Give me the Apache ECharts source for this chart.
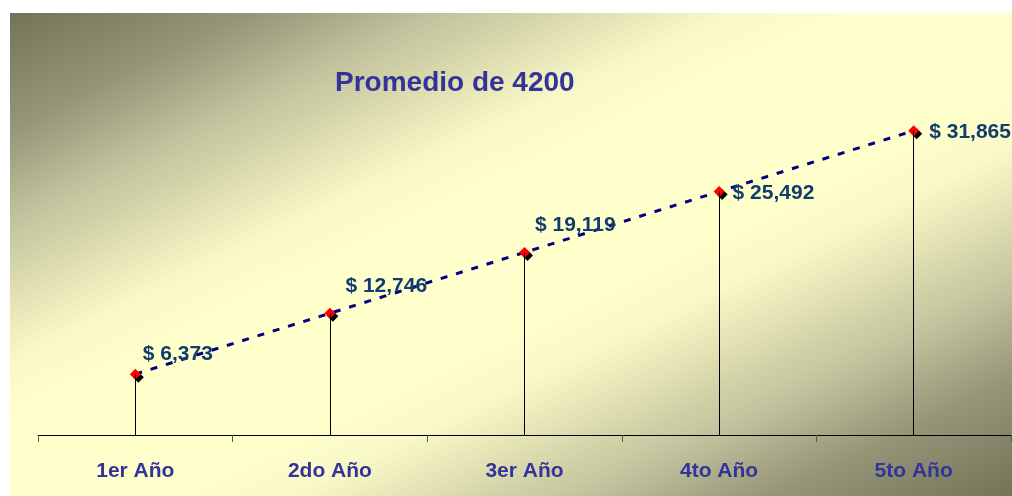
<!DOCTYPE html>
<html>
<head>
<meta charset="utf-8">
<script src="https://cdn.jsdelivr.net/npm/echarts@6/dist/echarts.min.js"></script>
<style>
  html, body { margin: 0; padding: 0; background: #fff; }
  #main { width: 1012px; height: 496px; }
</style>
</head>
<body>
<div id="main"></div>
<script>
const categories = ['1er Año', '2do Año', '3er Año', '4to Año', '5to Año'];
const values = [6373, 12746, 19119, 25492, 31865];
const titleText = 'Promedio de 4200';

// label offsets per point (x, y)
const labelOffsets = [[-3, -20], [5, -27], [0, -27], [3, 2], [5, 2]];

const myChart = echarts.init(document.getElementById('main'));

const fmt = (v) => '$ ' + v.toLocaleString('en-US');

myChart.setOption({
  animation: false,
  title: {
    text: titleText,
    left: 335,
    top: 69,
    padding: 0,
    textStyle: { fontFamily: 'Liberation Sans', fontSize: 28, fontWeight: 'bold', color: '#333399' }
  },
  graphic: [{
    type: 'rect',
    left: 10,
    top: 13,
    z: -10,
    silent: true,
    shape: { width: 1002, height: 483 },
    style: {
      // diagonal gradient, isolines along the anti-diagonal of the box
      fill: new echarts.graphic.LinearGradient(0, 0, 0.377, 1.623, [
        { offset: 0, color: '#737358' },
        { offset: 0.12, color: '#959578' },
        { offset: 0.21, color: '#c0c09c' },
        { offset: 0.3, color: '#e2e2b4' },
        { offset: 0.36, color: '#f8f8c8' },
        { offset: 0.42, color: '#ffffcc' },
        { offset: 0.58, color: '#ffffcc' },
        { offset: 0.64, color: '#f8f8c8' },
        { offset: 0.7, color: '#e2e2b4' },
        { offset: 0.79, color: '#c0c09c' },
        { offset: 0.88, color: '#959578' },
        { offset: 1, color: '#737358' }
      ])
    }
  }],
  grid: { left: 38, right: 1, top: 53, bottom: 61 },
  xAxis: {
    type: 'category',
    data: categories,
    boundaryGap: true,
    axisLine: { lineStyle: { color: '#000', width: 1 } },
    axisTick: { show: true, length: 7, lineStyle: { color: '#555' } },
    axisLabel: {
      margin: 26,
      fontFamily: 'Liberation Sans', fontSize: 21, fontWeight: 'bold', color: '#333399'
    }
  },
  yAxis: { type: 'value', min: 0, max: 40000, show: false, splitLine: { show: false } },
  series: [
    {
      type: 'line',
      data: values.map((v, i) => ({
        value: v,
        label: { offset: labelOffsets[i] }
      })),
      z: 3,
      symbol: 'diamond',
      symbolSize: 11,
      itemStyle: {
        color: '#ff0000',
        shadowColor: '#000',
        shadowBlur: 0,
        shadowOffsetX: 3,
        shadowOffsetY: 3
      },
      lineStyle: { color: '#000080', width: 3, type: [7, 9] },
      label: {
        show: true,
        position: 'right',
        distance: 5,
        formatter: (p) => fmt(p.value),
        fontFamily: 'Liberation Sans', fontSize: 21, fontWeight: 'bold', color: '#123c6c'
      },
      // drop lines from each point to the axis
      markLine: {
        silent: true,
        symbol: 'none',
        label: { show: false },
        lineStyle: { color: '#000', width: 1, type: 'solid' },
        data: values.map((v, i) => [{ coord: [i, 0] }, { coord: [i, v] }])
      }
    }
  ]
});
</script>
</body>
</html>
